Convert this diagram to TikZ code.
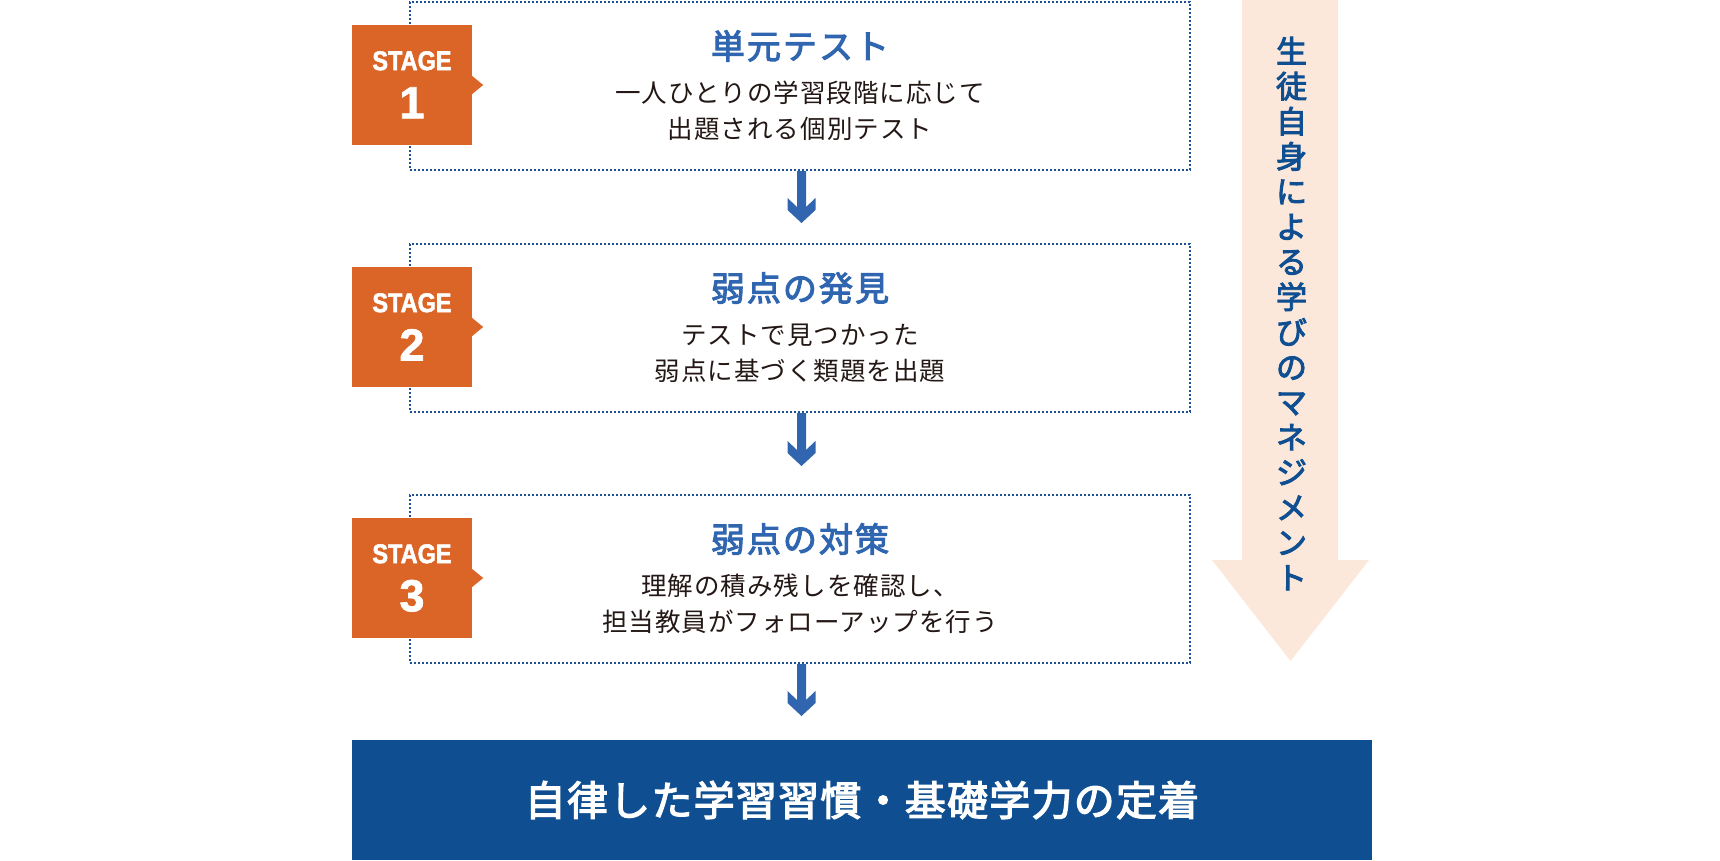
\documentclass[tikz,border=0pt]{standalone}
\usepackage{fontspec}
\setmainfont{Noto Sans CJK JP}
\newfontfamily\jptitle[LetterSpace=6,FakeBold=3]{Noto Sans CJK JP}
\newfontfamily\jpbody[LetterSpace=4]{Noto Sans CJK JP}
\newfontfamily\jpgoal[LetterSpace=3,FakeBold=3]{Noto Sans CJK JP}
\newfontfamily\jpvert[FakeBold=3]{Noto Sans CJK JP}
\newfontfamily\stagefont[FakeStretch=0.87,FakeBold=2]{Liberation Sans}
\newfontfamily\stagedigit[FakeBold=1.5]{Liberation Sans}
\usetikzlibrary{calc}
\definecolor{stageorange}{HTML}{DB6427}
\definecolor{titleblue}{HTML}{2F66AF}
\definecolor{navy}{HTML}{0F4F91}
\definecolor{dotblue}{HTML}{1E5095}
\definecolor{beige}{HTML}{FBE8DA}
\definecolor{ink}{HTML}{231815}
\definecolor{arrowblue}{HTML}{3265AF}
\tikzset{
  stepframe/.style={draw=dotblue, line width=2pt, dash pattern=on 2pt off 2pt,
    minimum width=780pt, minimum height=168pt, inner sep=0pt},
  stagebox/.style={fill=stageorange, minimum width=120pt, minimum height=120pt, inner sep=0pt},
  stagelbl/.style={text=white, font=\stagefont\bfseries\fontsize{27}{28}\selectfont, inner sep=0pt},
  stagenum/.style={text=white, font=\stagedigit\bfseries\fontsize{45}{46}\selectfont, inner sep=0pt},
  titletxt/.style={text=titleblue, font=\jptitle\fontsize{34}{36}\selectfont, inner sep=0pt},
  bodytxt/.style={text=ink, align=center, font=\jpbody\fontsize{25.5}{36}\selectfont, inner sep=0pt},
  goalbox/.style={fill=navy, text=white, minimum width=1020pt, minimum height=120pt, inner sep=0pt,
    font=\jpgoal\fontsize{41}{44}\selectfont},
  vtext/.style={text=navy, align=center, inner sep=0pt, font=\jpvert\fontsize{31}{35.1}\selectfont},
}
\begin{document}
\begin{tikzpicture}[x=1pt,y=-1pt]
\useasboundingbox[fill=white] (0,0) rectangle (1720,860);

% big beige arrow
\coordinate (ba1) at (1242,0);
\coordinate (ba2) at (1338,0);
\coordinate (batip) at (1290.5,661);
\fill[beige] (ba1) -- (ba2) -- (1338,560) -- (1369,560) -- (batip) -- (1212,560) -- (1242,560) -- cycle;
\node[vtext] (vt) at (1291.5,313.5) {生\\徒\\自\\身\\に\\よ\\る\\学\\び\\の\\マ\\ネ\\ジ\\メ\\ン\\ト};

% step frames
\node[stepframe] (box1) at (800,86) {};
\node[stepframe] (box2) at (800,328) {};
\node[stepframe] (box3) at (800,579) {};

% stage tags
\foreach \i in {1,2,3}{
  \node[stagebox] (s\i) at ($(box\i.west -| 412,0)+(0,-1)$) {};
  \fill[stageorange] ($(s\i.east)+(0,-9)$) -- ($(s\i.east)+(11,0)$) -- ($(s\i.east)+(0,9)$) -- cycle;
  \node[stagelbl] (sl\i) at ($(s\i.north)+(0,36)$) {STAGE};
  \node[stagenum] (sn\i) at ($(s\i.north)+(0,78)$) {\i};
}

% titles and descriptions
\node[titletxt] (t1) at ($(box1.north)+(0,45)$) {単元テスト};
\node[bodytxt] (d1) at ($(box1.north)+(0,110)$) {一人ひとりの学習段階に応じて\\出題される個別テスト};
\node[titletxt] (t2) at ($(box2.north)+(0,45)$) {弱点の発見};
\node[bodytxt] (d2) at ($(box2.north)+(0,110)$) {テストで見つかった\\弱点に基づく類題を出題};
\node[titletxt] (t3) at ($(box3.north)+(0,45)$) {弱点の対策};
\node[bodytxt] (d3) at ($(box3.north)+(0,110)$) {理解の積み残しを確認し、\\担当教員がフォローアップを行う};

% goal
\node[goalbox] (goal) at (862,800) {自律した学習習慣・基礎学力の定着};

% flow arrows
\coordinate (tip1) at (801.5,223);
\coordinate (tip2) at (801.5,466);
\coordinate (tip3) at (801.5,716);
\foreach \b/\t in {box1/tip1, box2/tip2, box3/tip3}{
  \fill[arrowblue] ($(\b.south -| \t)+(-4.5,0)$) -- ($(\b.south -| \t)+(4.5,0)$)
    -- ($(\t)+(4.5,-16)$) -- ($(\t)+(14,-25)$) -- ($(\t)+(14,-13)$) -- (\t)
    -- ($(\t)+(-14,-13)$) -- ($(\t)+(-14,-25)$) -- ($(\t)+(-4.5,-16)$) -- cycle;
}
\end{tikzpicture}
\end{document}
